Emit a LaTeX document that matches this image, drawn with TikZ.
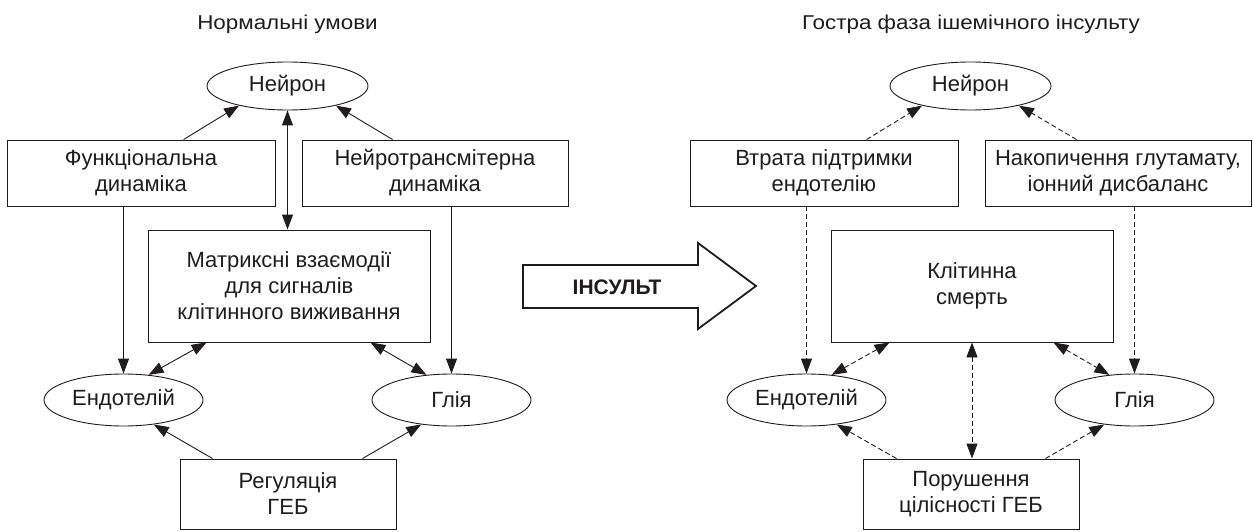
\documentclass[tikz,border=0pt]{standalone}
\usepackage{fontspec}
\setmainfont{Liberation Sans}
\newfontfamily\titlefont[FakeStretch=1.12]{Liberation Sans}
\usetikzlibrary{arrows.meta,shapes.geometric}
\definecolor{ink}{RGB}{30,28,29}
\begin{document}
\begin{tikzpicture}[x=1pt,y=-1pt,
  every node/.style={text=ink},
  boxnode/.style={draw=ink, line width=0.9pt, rectangle, inner sep=0pt, align=center,
    font=\fontsize{22}{26}\selectfont},
  ovalnode/.style={draw=ink, line width=0.9pt, ellipse, inner sep=0pt, align=center,
    minimum width=159pt, minimum height=52pt, font=\fontsize{22}{26}\selectfont},
  titlenode/.style={anchor=base, font=\titlefont\fontsize{20}{24}\selectfont},
  conn/.style={draw=ink, line width=0.9pt, -{Triangle[length=15pt,width=11pt]}},
  biconn/.style={draw=ink, line width=0.9pt, {Triangle[length=15pt,width=11pt]}-{Triangle[length=15pt,width=11pt]}},
  dsh/.style={dash pattern=on 5pt off 3pt}
]
\useasboundingbox (0,0) rectangle (1253,532);

% ---------- left panel ----------
\node[titlenode] (t1) at (287.5,30) {Нормальні умови};
\node[ovalnode, minimum width=161pt, minimum height=48pt] (n1) at (287.5,86) {Нейрон};
\node[boxnode, minimum width=268pt, minimum height=66pt] (f1) at (141,173) {Функціональна\\динаміка};
\node[boxnode, minimum width=266pt, minimum height=66pt] (r1) at (435,173) {Нейротрансмітерна\\динаміка};
\node[boxnode, minimum width=282pt, minimum height=112pt] (m1) at (289,286) {Матриксні взаємодії\\для сигналів\\клітинного виживання};
\node[ovalnode] (e1) at (123.5,400) {Ендотелій};
\node[ovalnode] (g1) at (451.5,400) {Глія};
\node[boxnode, minimum width=216pt, minimum height=70pt] (reg1) at (288,494) {Регуляція\\ГЕБ};

\draw[conn] ([xshift=177pt]f1.north west) -- (n1.-158);
\draw[conn] ([xshift=91pt]r1.north west) -- (n1.-22);
\draw[biconn] (n1.south) -- (n1.south |- m1.north);
\draw[conn] (e1.north |- f1.south) -- (e1.north);
\draw[conn] (g1.north |- r1.south) -- (g1.north);
\draw[biconn] ([xshift=59pt]m1.south west) -- (e1.45);
\draw[biconn] ([xshift=-60pt]m1.south east) -- (g1.135);
\draw[conn] ([xshift=33pt]reg1.north west) -- (e1.-39);
\draw[conn] ([xshift=-34pt]reg1.north east) -- (g1.-141);

% ---------- big arrow ----------
\draw[draw=ink, line width=1.8pt, line join=miter]
  (523,265) -- (698,265) -- (698,243) -- (756,286) -- (698,329) -- (698,308) -- (523,308) -- cycle;
\node[font=\bfseries\fontsize{21}{25}\selectfont] (ins) at (617,287) {ІНСУЛЬТ};

% ---------- right panel ----------
\node[titlenode] (t2) at (971,30) {Гостра фаза ішемічного інсульту};
\node[ovalnode, minimum width=161pt, minimum height=48pt] (n2) at (970.5,86) {Нейрон};
\node[boxnode, minimum width=268pt, minimum height=66pt] (f2) at (824,173) {Втрата підтримки\\ендотелію};
\node[boxnode, minimum width=266pt, minimum height=66pt] (r2) at (1118,173) {Накопичення глутамату,\\іонний дисбаланс};
\node[boxnode, minimum width=282pt, minimum height=112pt] (k2) at (972,286) {Клітинна\\смерть};
\node[ovalnode] (e2) at (806.5,400) {Ендотелій};
\node[ovalnode] (g2) at (1134.5,400) {Глія};
\node[boxnode, minimum width=216pt, minimum height=70pt] (p2) at (971,494) {Порушення\\цілісності ГЕБ};

\draw[conn,dsh] ([xshift=177pt]f2.north west) -- (n2.-158);
\draw[conn,dsh] ([xshift=92pt]r2.north west) -- (n2.-22);
\draw[conn,dsh] (e2.north |- f2.south) -- (e2.north);
\draw[conn,dsh] (g2.north |- r2.south) -- (g2.north);
\draw[biconn,dsh] ([xshift=59pt]k2.south west) -- (e2.45);
\draw[biconn,dsh] ([xshift=-60pt]k2.south east) -- (g2.135);
\draw[biconn,dsh] (k2.south) -- (k2.south |- p2.north);
\draw[conn,dsh] ([xshift=34pt]p2.north west) -- (e2.-39);
\draw[conn,dsh] ([xshift=-34pt]p2.north east) -- (g2.-141);
\end{tikzpicture}
\end{document}
